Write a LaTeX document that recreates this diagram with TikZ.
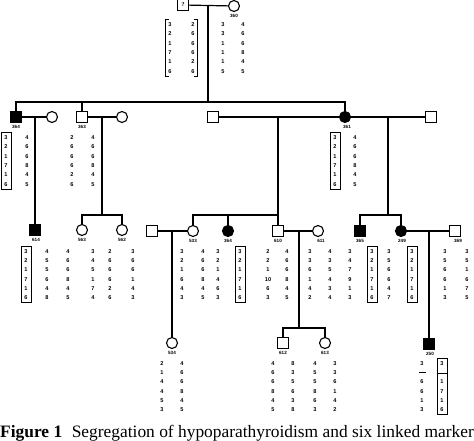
\documentclass[tikz,border=0pt]{standalone}
\usepackage{fontspec}
\setmainfont{Liberation Serif}
\newfontfamily\hapfont{Liberation Sans}
\usetikzlibrary{positioning, calc}

\begin{document}
\begin{tikzpicture}[x=1pt, y=-1pt,
        male/.style={rectangle, draw, line width=1.1pt, fill=white, minimum size=10.5pt, inner sep=0pt},
        female/.style={circle, draw, line width=1.1pt, fill=white, minimum size=11pt, inner sep=0pt},
        affected/.style={fill=black},
        id_text/.style={font=\hapfont\fontsize{4.6}{5}\selectfont\bfseries, inner sep=0pt},
        hap/.style={font=\hapfont\fontsize{5.6}{9.3}\selectfont\bfseries, align=center, inner sep=0pt},
        hap_box/.style={hap, draw, line width=0.7pt, inner xsep=3.5pt, inner ysep=3pt},
        hap_frame/.style={hap, inner xsep=3pt, inner ysep=3pt},
        pedline/.style={line width=1.2pt},
        bracket/.style={line width=0.7pt},
        caption_text/.style={font=\fontsize{17.4}{20}\selectfont, inner sep=0pt}
    ]
    \useasboundingbox (0,0) rectangle (474,441);

    % generation I
    \node[male] (m0) at (183,5) {\fontsize{6}{6}\selectfont\bfseries ?};
    \node[female] (f360) at (234,6) {};
    \node[id_text, below=2.5pt of f360] (l360) {360};
    \draw[pedline] (m0) -- (f360);
    \coordinate (c0) at (208,5);
    \coordinate (s0) at (208,102);
    \draw[pedline] (c0) -- (s0);

    \node[hap_frame] (h0a) at (170,48) {3\\2\\1\\7\\1\\6};
    \node[hap_frame] (h0b) at (193,48) {2\\6\\6\\6\\2\\6};
    \draw[bracket] ([xshift=4pt]h0a.north west) -- (h0a.north west) -- (h0a.south west) -- ++(4,0);
    \draw[bracket] ([xshift=-4pt]h0b.north east) -- (h0b.north east) -- (h0b.south east) -- ++(-4,0);
    \node[hap] (h360a) at (223,48) {3\\3\\1\\1\\1\\5};
    \node[hap] (h360b) at (243,48) {4\\6\\6\\8\\4\\5};

    % generation II
    \node[male, affected] (m364) at (16,117) {};
    \node[female] (f364s) at (52,117) {};
    \node[male] (m363) at (82,117) {};
    \node[female] (f363s) at (122,117) {};
    \node[male] (m361s) at (213,117) {};
    \node[female, affected] (f361) at (345,117) {};
    \node[male] (m361t) at (431,117) {};

    \node[id_text, below=2.5pt of m364] (l364) {364};
    \node[id_text, below=2.5pt of m363] (l363) {363};
    \node[id_text, below=2.5pt of f361, xshift=2pt] (l361) {361};

    \draw[pedline] (m364) |- (s0) -| (f361);
    \draw[pedline] (m363) -- (m363 |- s0);

    \node[hap_box] (h364a) at (6,161) {3\\2\\1\\7\\1\\6};
    \node[hap] (h364b) at (27,161) {4\\6\\6\\8\\4\\5};
    \node[hap] (h363a) at (72,161) {2\\6\\6\\6\\2\\6};
    \node[hap] (h363b) at (93,161) {4\\6\\6\\8\\4\\5};
    \node[hap_box] (h361a) at (335,161) {3\\2\\1\\7\\1\\6};
    \node[hap] (h361b) at (355,161) {4\\6\\6\\8\\4\\5};

    % generation III
    \node[male, affected] (m614) at (35,230) {};
    \node[female] (f563) at (82,230) {};
    \node[female] (f562) at (122,230) {};
    \node[male] (m533s) at (152,231) {};
    \node[female] (f533) at (193,231) {};
    \node[female, affected] (f364c) at (228,231) {};
    \node[male] (m610) at (278,231) {};
    \node[female] (f611) at (318,231) {};
    \node[male, affected] (m365) at (360,231) {};
    \node[female, affected] (f249) at (401,231) {};
    \node[male] (m369) at (455,231) {};

    \node[id_text, below=2.5pt of m614, xshift=1pt] (l614) {614};
    \node[id_text, below=2.5pt of f563] (l563) {563};
    \node[id_text, below=2.5pt of f562] (l562) {562};
    \node[id_text, below=2.5pt of f533] (l533) {533};
    \node[id_text, below=2.5pt of f364c] (l364c) {364};
    \node[id_text, below=2.5pt of m610] (l610) {610};
    \node[id_text, below=2.5pt of f611, xshift=3pt] (l611) {611};
    \node[id_text, below=2.5pt of m365] (l365) {365};
    \node[id_text, below=2.5pt of f249, xshift=1pt] (l249) {249};
    \node[id_text, below=2.5pt of m369, xshift=3pt] (l369) {369};

    % marriages of generation II
    \draw[pedline] (m364) -- (f364s);
    \coordinate (c364) at (35,117);
    \draw[pedline] (c364) -- (m614);

    \draw[pedline] (m363) -- (f363s);
    \coordinate (c363) at (102,117);
    \coordinate (s363) at (102,215);
    \draw[pedline] (c363) -- (s363);
    \draw[pedline] (f563) |- (s363) -| (f562);

    \draw[pedline] (m361s) -- (f361);
    \coordinate (c361) at (278,117);
    \coordinate (s361) at (278,215);
    \draw[pedline] (c361) -- (m610);
    \draw[pedline] (f533) |- (s361);
    \draw[pedline] (f364c) -- (f364c |- s361);

    \draw[pedline] (f361) -- (m361t);
    \coordinate (c361t) at (388,117);
    \coordinate (s361t) at (388,215);
    \draw[pedline] (c361t) -- (s361t);
    \draw[pedline] (m365) |- (s361t) -| (f249);

    \node[hap_box] (h614a) at (26,274.5) {3\\2\\1\\7\\1\\6};
    \node[hap] (h614b) at (47,274.5) {4\\5\\5\\6\\4\\8};
    \node[hap] (h563a) at (68,274.5) {4\\6\\6\\8\\4\\5};
    \node[hap] (h563b) at (93,274.5) {3\\4\\5\\1\\7\\4};
    \node[hap] (h562a) at (110,274.5) {2\\6\\6\\6\\2\\6};
    \node[hap] (h562b) at (133,274.5) {3\\6\\6\\1\\4\\3};
    \node[hap] (h533a) at (182,274.5) {3\\2\\1\\6\\4\\3};
    \node[hap] (h533b) at (203,274.5) {4\\6\\6\\8\\4\\5};
    \node[hap] (h364ca) at (218,274.5) {3\\2\\1\\4\\6\\3};
    \node[hap_box] (h364cb) at (240,274.5) {3\\2\\1\\7\\1\\6};
    \node[hap] (h610a) at (268,274.5) {2\\2\\1\\10\\6\\3};
    \node[hap] (h610b) at (287,274.5) {4\\6\\6\\8\\4\\5};
    \node[hap] (h611a) at (310,274.5) {3\\3\\6\\1\\4\\2};
    \node[hap] (h611b) at (330,274.5) {4\\3\\5\\4\\3\\4};
    \node[hap] (h365a) at (350,274.5) {3\\4\\7\\9\\1\\3};
    \node[hap_box] (h365b) at (372,274.5) {3\\2\\1\\7\\1\\6};
    \node[hap] (h249a) at (389,274.5) {3\\5\\6\\6\\4\\7};
    \node[hap_box] (h249b) at (412,274.5) {3\\2\\1\\7\\1\\6};
    \node[hap] (h369a) at (445,274.5) {3\\5\\6\\6\\1\\3};
    \node[hap] (h369b) at (467,274.5) {3\\5\\1\\6\\7\\5};

    % generation IV
    \node[female] (f534) at (172,343) {};
    \node[male] (m612) at (283,343) {};
    \node[female] (f613) at (325,343) {};
    \node[male, affected] (m250) at (429,344) {};

    \node[id_text, below=2.5pt of f534] (l534) {534};
    \node[id_text, below=2.5pt of m612] (l612) {612};
    \node[id_text, below=2.5pt of f613] (l613) {613};
    \node[id_text, below=2.5pt of m250, xshift=1pt] (l250) {250};

    % marriages of generation III
    \draw[pedline] (m533s) -- (f533);
    \coordinate (c533) at (172,231);
    \draw[pedline] (c533) -- (f534);

    \draw[pedline] (m610) -- (f611);
    \coordinate (c610) at (299,231);
    \coordinate (s610) at (299,328);
    \draw[pedline] (c610) -- (s610);
    \draw[pedline] (m612) |- (s610) -| (f613);

    \draw[pedline] (f249) -- (m369);
    \coordinate (c249) at (429,231);
    \draw[pedline] (c249) -- (m250);

    \node[hap] (h534a) at (162,386.5) {2\\1\\4\\4\\5\\3};
    \node[hap] (h534b) at (182,386.5) {4\\6\\6\\8\\4\\5};
    \node[hap] (h612a) at (273,386.5) {4\\6\\6\\8\\4\\5};
    \node[hap] (h612b) at (293,386.5) {8\\3\\5\\6\\3\\8};
    \node[hap] (h613a) at (315,386.5) {4\\5\\5\\8\\6\\3};
    \node[hap] (h613b) at (335,386.5) {3\\3\\6\\1\\4\\2};
    \node[hap] (h250a) at (422,386.5) {3\\\rule[1.6pt]{7pt}{0.9pt}\\6\\6\\1\\3};
    \node[hap_box] (h250b) at (442,386.5) {3\\ \\1\\7\\1\\6};
    \coordinate (d250) at (442,373);
    \draw[bracket] (h250b.west |- d250) -- (h250b.east |- d250);

    % caption
    \node[caption_text, anchor=base west] (cap) at (0,437.5)
        {\textbf{Figure 1}\hspace{0.55em}Segregation of hypoparathyroidism and six linked marker};

\end{tikzpicture}
\end{document}
